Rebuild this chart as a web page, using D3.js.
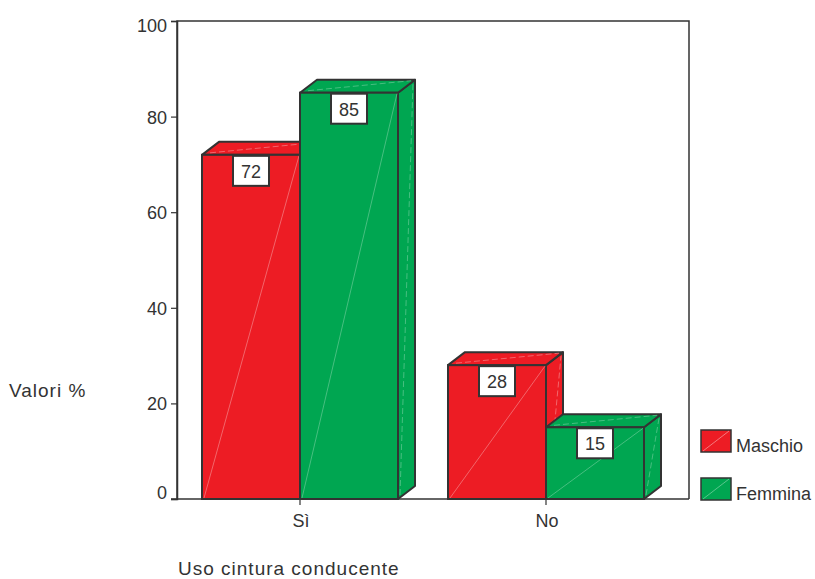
<!DOCTYPE html>
<html>
<head>
<meta charset="utf-8">
<script src="https://cdn.jsdelivr.net/npm/d3@7"></script>
<style>
  html, body { margin: 0; padding: 0; background: #fff; }
  svg text { font-family: "Liberation Sans", Arial, Helvetica, sans-serif; fill: #333; }
</style>
</head>
<body>
<svg id="chart" width="815" height="579"></svg>
<script>
// Data: seat-belt use by driver gender (%)
const categories = ["Sì", "No"];
const seriesNames = ["Maschio", "Femmina"];
const maschio = [72, 28];
const femmina = [85, 15];
const yTicks = [0, 20, 40, 60, 80, 100];
const colors = ["#ED1C24", "#00A651"];

const svg = d3.select("#chart");
const frame = { left: 177, top: 21, right: 689, bottom: 499 };
const depth = { dx: 17, dy: -13 };
const edge = "#333333";

const y = d3.scaleLinear().domain([0, 100]).range([frame.bottom, frame.top]);
const x = d3.scaleBand().domain(categories).range([frame.left, 669]);
const barW = 98;

// Frame around the plot area
svg.append("path")
  .attr("d", `M${frame.left},${frame.bottom} V${frame.top} H${frame.right} V${frame.bottom}`)
  .attr("fill", "none").attr("stroke", edge).attr("stroke-width", 1.5);

// Y axis (labels at the ends are kept inside the axis span)
const yAxis = d3.axisLeft(y).tickValues(yTicks).tickSize(6).tickPadding(4);
const gy = svg.append("g").attr("transform", `translate(${frame.left},0)`).call(yAxis);
gy.select(".domain").attr("stroke", edge).attr("stroke-width", 1.5);
gy.selectAll(".tick line").attr("stroke", edge).attr("stroke-width", 1.2);
gy.selectAll(".tick text")
  .attr("font-size", 18).style("fill", "#333")
  .attr("font-family", "Liberation Sans, Arial, sans-serif")
  .attr("dy", null)
  .attr("y", v => {
    const c = Math.max(frame.top + 4, Math.min(frame.bottom - 7, y(v)));
    return c - y(v) + 6.5;
  });

// Build the bars
const rows = [];
categories.forEach((c, i) => {
  const cx = x(c) + x.bandwidth() / 2;
  [maschio[i], femmina[i]].forEach((v, s) => {
    rows.push({ cat: c, series: s, value: v, x0: cx - barW + s * barW, x1: cx + s * barW });
  });
});

const bars = svg.append("g");
rows.forEach(d => {
  const g = bars.append("g");
  const yt = y(d.value), yb = y(0);
  const col = colors[d.series];
  const { dx, dy } = depth;
  // side face
  g.append("path")
    .attr("d", `M${d.x1},${yb} L${d.x1 + dx},${yb + dy} L${d.x1 + dx},${yt + dy} L${d.x1},${yt} Z`)
    .attr("fill", col).attr("stroke", edge).attr("stroke-width", 2).attr("stroke-linejoin", "round");
  // top face
  g.append("path")
    .attr("d", `M${d.x0},${yt} L${d.x0 + dx},${yt + dy} L${d.x1 + dx},${yt + dy} L${d.x1},${yt} Z`)
    .attr("fill", col).attr("stroke", edge).attr("stroke-width", 2).attr("stroke-linejoin", "round");
  // front face
  g.append("rect")
    .attr("x", d.x0).attr("y", yt).attr("width", d.x1 - d.x0).attr("height", yb - yt)
    .attr("fill", col).attr("stroke", edge).attr("stroke-width", 2);
  // faint shading seams
  const seam = d.series === 0 ? "#f7a0a4" : "#7fd3a6";
  g.append("line").attr("x1", d.x0 + 2).attr("y1", yb - 1).attr("x2", d.x1 - 1).attr("y2", yt + 1)
    .attr("stroke", seam).attr("stroke-width", 0.7).attr("opacity", 0.8);
  g.append("line").attr("x1", d.x1 + 2).attr("y1", yb - 4).attr("x2", d.x1 + dx - 2).attr("y2", yt + dy + 4)
    .attr("stroke", seam).attr("stroke-width", 0.7).attr("opacity", 0.8).attr("stroke-dasharray", "6,3");
  g.append("line").attr("x1", d.x0 + 8).attr("y1", yt - 2).attr("x2", d.x1 + dx - 4).attr("y2", yt + dy + 1)
    .attr("stroke", seam).attr("stroke-width", 0.7).attr("opacity", 0.8).attr("stroke-dasharray", "6,3");
});

// Value labels
rows.forEach(d => {
  const cx = (d.x0 + d.x1) / 2;
  const yt = y(d.value);
  const g = svg.append("g");
  g.append("rect").attr("x", cx - 18).attr("y", yt + 1).attr("width", 36).attr("height", 30)
    .attr("fill", "#fff").attr("stroke", edge).attr("stroke-width", 2);
  g.append("text").attr("x", cx).attr("y", yt + 23).attr("text-anchor", "middle")
    .attr("font-size", 18).text(d.value);
});

// Baseline with category ticks
svg.append("line").attr("x1", 171).attr("x2", frame.right).attr("y1", frame.bottom).attr("y2", frame.bottom)
  .attr("stroke", edge).attr("stroke-width", 1.5);
categories.forEach(c => {
  const cx = x(c) + x.bandwidth() / 2;
  svg.append("line").attr("x1", cx).attr("x2", cx).attr("y1", frame.bottom).attr("y2", frame.bottom + 6)
    .attr("stroke", edge).attr("stroke-width", 1.2);
  svg.append("text").attr("x", cx + 1).attr("y", 527).attr("text-anchor", "middle")
    .attr("font-size", 18).text(c);
});

// Axis titles
svg.append("text").attr("x", 9).attr("y", 397).attr("font-size", 19)
  .attr("letter-spacing", 1).text("Valori %");
svg.append("text").attr("x", 178).attr("y", 575).attr("font-size", 19)
  .attr("letter-spacing", 1).text("Uso cintura conducente");

// Legend
seriesNames.forEach((name, i) => {
  const ly = 430 + i * 48;
  svg.append("rect").attr("x", 701).attr("y", ly).attr("width", 30).attr("height", 22)
    .attr("fill", colors[i]).attr("stroke", edge).attr("stroke-width", 1.5);
  svg.append("line").attr("x1", 703).attr("y1", ly + 21).attr("x2", 729).attr("y2", ly + 1)
    .attr("stroke", i === 0 ? "#f7a0a4" : "#7fd3a6").attr("stroke-width", 0.7);
  svg.append("text").attr("x", 736).attr("y", ly + 22).attr("font-size", 18).text(name);
});
</script>
</body>
</html>
